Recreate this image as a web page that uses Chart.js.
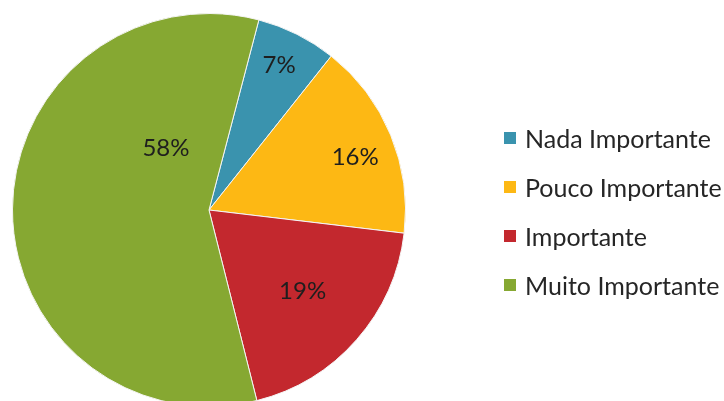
<!DOCTYPE html>
<html>
<head>
<meta charset="utf-8">
<script src="https://cdn.jsdelivr.net/npm/chart.js@4"></script>
<style>
html, body { margin: 0; padding: 0; background: #fff; overflow: hidden; }
#wrap { position: relative; width: 724px; height: 407px; }
#legend { position: absolute; left: 504px; top: 113px; font-family: Lato, sans-serif; font-size: 25px; color: #262626; }
#legend .row { display: flex; align-items: center; height: 49px; }
#legend .box { width: 12px; height: 12px; margin-right: 9px; }
</style>
</head>
<body>
<div id="wrap">
  <canvas id="pieChart" width="724" height="407"></canvas>
  <div id="legend"></div>
</div>
<script>
var labels = ["Nada Importante", "Pouco Importante", "Importante", "Muito Importante"];
var values = [6.6, 16.2, 19.2, 58.0];
var colors = ["#3a93ae", "#fdb814", "#c3282e", "#86a832"];

// where each percentage sits: angle shift from slice middle (deg) and fraction of radius
var labelPlace = [
    { da: -0.8, r: 0.82 },
    { da: 2.7, r: 0.79 },
    { da: -0.5, r: 0.63 },
    { da: 55, r: 0.385 }
];

var pctLabels = {
    id: "pctLabels",
    afterDatasetsDraw: function(chart){
        var ctx = chart.ctx;
        var meta = chart.getDatasetMeta(0);
        var total = values.reduce(function(a, b){ return a + b; }, 0);
        ctx.save();
        ctx.font = "24px Lato";
        ctx.fillStyle = "#1e1e1e";
        ctx.textAlign = "center";
        ctx.textBaseline = "middle";
        meta.data.forEach(function(arc, i){
            var mid = (arc.startAngle + arc.endAngle) / 2 + labelPlace[i].da * Math.PI / 180;
            var r = arc.outerRadius * labelPlace[i].r;
            var x = arc.x + Math.cos(mid) * r;
            var y = arc.y + Math.sin(mid) * r;
            ctx.fillText(Math.round(values[i] / total * 100) + "%", x, y);
        });
        ctx.restore();
    }
};

var chart = new Chart(document.getElementById("pieChart"), {
    type: 'pie',
    data: {
        labels: labels,
        datasets: [{
            data: values,
            backgroundColor: colors,
            borderColor: "#f4f4f4",
            borderWidth: 1
        }]
    },
    options: {
        responsive: false,
        animation: false,
        rotation: 14.7,
        layout: { padding: { left: 12, right: 318, top: 13, bottom: 0 } },
        plugins: {
            legend: { display: false },
            tooltip: { enabled: false }
        }
    },
    plugins: [pctLabels]
});

var legendEl = document.getElementById("legend");
labels.forEach(function(name, i){
    var row = document.createElement("div");
    row.className = "row";
    var box = document.createElement("span");
    box.className = "box";
    box.style.background = colors[i];
    var txt = document.createElement("span");
    txt.textContent = name;
    row.appendChild(box);
    row.appendChild(txt);
    legendEl.appendChild(row);
});
</script>
</body>
</html>
